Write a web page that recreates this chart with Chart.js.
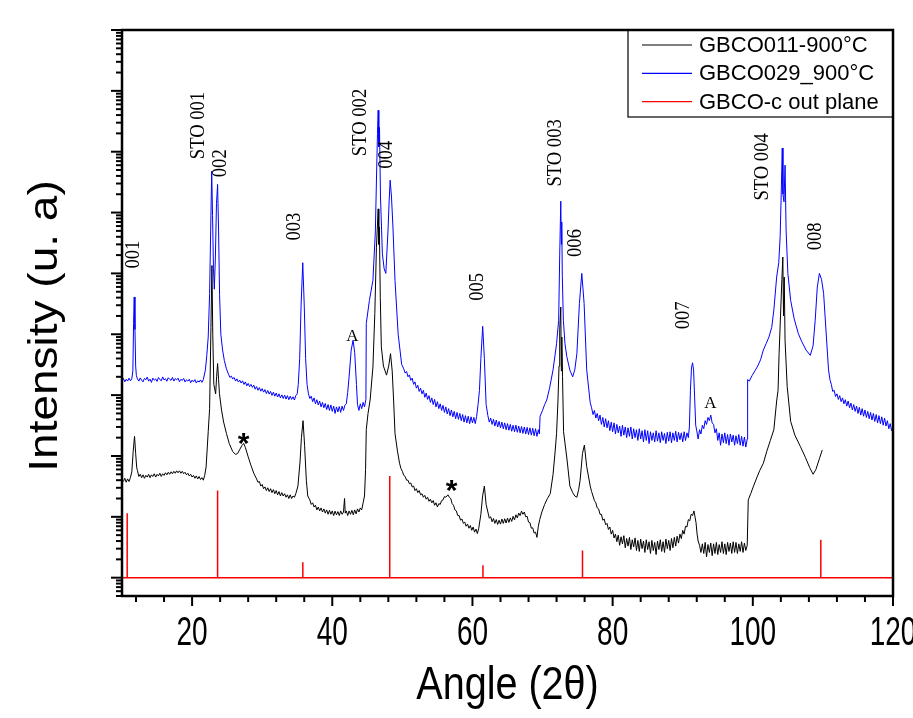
<!DOCTYPE html>
<html>
<head>
<meta charset="utf-8">
<script src="https://cdn.jsdelivr.net/npm/chart.js@4.4.1/dist/chart.umd.min.js"></script>
<style>
  html, body { margin: 0; padding: 0; background: #fff; }
  #wrap { width: 913px; height: 718px; }
</style>
</head>
<body>
<div id="wrap"><canvas id="xrd" width="913" height="718"></canvas></div>
<script>
// GBCO011-900C film, [2theta, counts]
const gbco011 = [
  [10.2,38],[10.4,43],[10.6,37],[10.8,42],[11.0,38],[11.2,44],[11.4,55],[11.6,120],[11.79,210],[11.95,110],[12.1,64],
  [12.2,58],[12.4,46],[12.6,50],[12.8,44],[13.0,49],[13.2,43],[13.4,48],[13.6,45],[13.8,50],[14.0,44],
  [14.2,49],[14.4,46],[14.6,51],[14.8,45],[15.0,50],[15.2,47],[15.4,52],[15.6,46],[15.8,51],[16.0,48],
  [16.2,53],[16.4,49],[16.6,54],[16.8,50],[17.0,55],[17.2,51],[17.4,56],[17.6,52],[17.8,57],[18.0,53],
  [18.2,57],[18.4,52],[18.6,56],[18.8,51],[19.0,54],[19.2,49],[19.4,52],[19.6,47],[19.8,50],[20.0,45],
  [20.2,48],[20.4,43],[20.6,47],[20.8,42],[21.0,46],[21.2,41],[21.4,44],[21.6,40],[21.8,48],[22.0,66],
  [22.3,250],[22.5,600],[22.69,13000],[22.83,135000],[22.95,10000],[23.1,1500],[23.36,1050],[23.5,2000],[23.64,3300],[23.78,1800],
  [23.9,1070],[24.2,570],[24.5,360],[24.9,235],[25.3,160],[25.8,118],[26.2,106],[26.5,110],[26.8,128],[27.1,148],
  [27.36,161],[27.6,138],[28.0,97],[28.4,70],[28.8,52],[29.2,42],[29.4,37],[29.6,38],[29.8,32],[30.0,34],
  [30.2,29],[30.4,31],[30.6,27],[30.8,30],[31.0,26],[31.2,29],[31.4,25],[31.6,28],[31.8,24],[32.0,27],
  [32.2,23],[32.4,26],[32.6,22],[32.8,25],[33.0,22],[33.2,24],[33.4,21],[33.6,23],[33.8,20],[34.0,23],
  [34.2,20],[34.4,22],[34.6,21],[34.8,24],[35.1,32],[35.4,80],[35.6,200],[35.83,380],[36.05,150],[36.3,40],
  [36.5,22],[36.8,19],[37.0,16],[37.2,17],[37.4,14.5],[37.6,15.5],[37.8,13],[38.0,14.5],[38.2,12.5],[38.4,14],
  [38.6,12],[38.8,13.5],[39.0,11.5],[39.2,13],[39.4,11],[39.6,12.8],[39.8,11],[40.0,12.5],[40.2,10.5],[40.4,12.4],
  [40.6,10.8],[40.8,12.2],[41.0,10.5],[41.2,12.5],[41.4,11],[41.6,12],[41.75,20],[41.85,11.5],[42.0,12.5],[42.2,10.5],
  [42.4,12.5],[42.6,11],[42.8,12.8],[43.0,10.8],[43.2,13],[43.4,11.2],[43.6,13.5],[43.8,12],[44.0,14],[44.2,13],
  [44.4,17],[44.6,22],[44.75,60],[44.85,270],[45.1,500],[45.4,830],[45.8,2900],[46.07,22000],[46.3,270000],[46.55,1150000],
  [46.64,300000],[46.72,575000],[46.85,40000],[47.0,6200],[47.3,3000],[47.74,2130],[48.05,3000],[48.31,4800],[48.55,2500],[48.75,830],
  [48.95,235],[49.3,120],[49.6,76],[49.8,62],[50.0,56],[50.2,48],[50.4,46],[50.6,40],[50.8,40],[51.0,35],
  [51.2,36],[51.4,31],[51.6,32],[51.8,27],[52.0,29],[52.2,25],[52.4,27],[52.6,23],[52.8,24],[53.0,21],
  [53.2,22.5],[53.4,19.5],[53.6,21],[53.8,18],[54.0,19.5],[54.2,17],[54.4,18.5],[54.6,15.5],[54.8,17],[55.0,14.5],
  [55.2,16.5],[55.4,16],[55.6,18.5],[55.8,19],[56.0,21.5],[56.2,21],[56.5,23],[56.7,21],[56.9,20],[57.1,16.5],
  [57.3,15.5],[57.5,13],[57.7,12.5],[57.9,10.5],[58.1,10.5],[58.3,8.8],[58.5,9.2],[58.7,7.8],[58.9,8.2],[59.1,7],
  [59.3,7.6],[59.5,6.5],[59.7,7.2],[59.9,6],[60.1,6.8],[60.3,5.6],[60.5,6.3],[60.7,5.3],[60.9,6.5],[61.2,11],
  [61.45,22],[61.7,32],[61.95,16],[62.2,12],[62.4,9.5],[62.6,10],[62.8,8.3],[63.0,9.4],[63.2,7.8],[63.4,9],
  [63.6,7.5],[63.8,8.8],[64.0,7.6],[64.2,9.2],[64.4,7.8],[64.6,9.3],[64.8,7.9],[65.0,9.5],[65.2,8.1],[65.4,9.6],
  [65.6,8.4],[65.8,10.2],[66.0,8.9],[66.2,10.8],[66.4,9.6],[66.6,11.5],[66.8,10.5],[67.0,12.4],[67.2,11],[67.4,12],
  [67.6,10],[67.8,10.2],[68.0,8.2],[68.2,8],[68.4,6.5],[68.6,6.6],[68.8,5.4],[69.0,5.6],[69.2,4.6],[69.4,7],
  [69.6,9],[69.9,12],[70.3,16],[70.7,20],[71.1,24],[71.5,50],[71.8,120],[72.0,235],[72.2,800],[72.35,3000],
  [72.45,12000],[72.6,28000],[72.68,2500],[72.75,9000],[72.85,2000],[73.0,250],[73.5,86],[73.9,32],[74.3,25],[74.6,22],
  [74.9,21],[75.15,28],[75.36,40],[75.7,110],[75.97,151],[76.3,67],[76.8,32],[77.0,26],[77.2,22],[77.4,18.5],
  [77.6,17],[77.8,14],[78.0,13.5],[78.2,11],[78.4,11],[78.6,8.8],[78.8,9.2],[79.0,7.4],[79.2,7.8],[79.4,6.2],
  [79.6,6.8],[79.8,5.2],[80.0,6],[80.2,4.5],[80.4,5.2],[80.6,3.9],[80.8,5.0],[81.0,3.4],[81.2,4.7],[81.4,3.6],
  [81.6,4.9],[81.8,3.1],[82.0,4.4],[82.2,3.3],[82.4,4.6],[82.6,2.9],[82.8,4.2],[83.0,3.2],[83.2,4.5],[83.4,2.8],
  [83.6,4.1],[83.8,2.7],[84.0,4.3],[84.2,3.0],[84.4,4.0],[84.6,2.6],[84.8,4.2],[85.0,2.9],[85.2,3.9],[85.4,2.5],
  [85.6,4.1],[85.8,2.8],[86.0,3.8],[86.2,2.4],[86.4,4.0],[86.6,2.9],[86.8,4.2],[87.0,2.7],[87.2,3.9],[87.4,2.6],
  [87.6,4.3],[87.8,3.0],[88.0,4.1],[88.2,2.8],[88.4,4.4],[88.6,3.1],[88.8,4.6],[89.0,3.3],[89.2,4.8],[89.4,3.7],
  [89.6,5.2],[89.8,4.4],[90.0,6.0],[90.2,5.2],[90.4,7.0],[90.6,6.8],[90.8,9.0],[91.0,8.6],[91.2,11],[91.4,10.5],
  [91.6,12.5],[91.75,10],[91.9,8],[92.05,5.2],[92.2,4.0],[92.4,3.4],[92.6,2.6],[92.8,3.6],[93.0,2.5],[93.2,3.8],
  [93.4,2.2],[93.6,3.5],[93.8,2.6],[94.0,3.7],[94.2,2.3],[94.4,3.6],[94.6,2.5],[94.8,3.8],[95.0,2.4],[95.2,3.5],
  [95.4,2.6],[95.6,3.9],[95.8,2.5],[96.0,3.6],[96.2,2.4],[96.4,3.8],[96.6,2.7],[96.8,3.7],[97.0,2.5],[97.2,3.9],
  [97.4,2.6],[97.6,3.8],[97.8,2.5],[98.0,3.6],[98.2,2.7],[98.4,3.9],[98.6,2.6],[98.8,3.7],[99.0,2.8],[99.2,3.4],
  [99.35,19],[99.7,24],[100.1,32],[100.6,45],[101.0,58],[101.5,76],[102.0,120],[102.5,180],[103.0,270],[103.4,800],
  [103.6,1200],[103.75,4800],[103.95,20000],[104.15,80000],[104.28,186000],[104.38,20000],[104.48,87000],[104.6,8000],[104.9,1400],[105.4,370],
  [106.0,220],[106.8,142],[107.5,95],[108.1,65],[108.6,50],[109.0,60],[109.5,90],[109.9,125]
];

// GBCO029_900C film, [2theta, counts]
const gbco029 = [
  [10.0,1700],[10.2,1880],[10.4,1650],[10.6,1820],[10.8,1700],[11.0,1900],[11.2,1720],[11.4,1850],[11.55,2500],[11.65,15000],
  [11.74,41000],[11.85,12000],[11.95,3000],[12.05,2100],[12.2,1850],[12.4,1700],[12.6,1920],[12.8,1760],[13.0,1650],[13.2,1880],
  [13.4,1790],[13.6,1980],[13.8,1700],[14.0,1830],[14.2,1620],[14.4,1900],[14.6,1760],[14.8,1850],[15.0,1680],[15.2,1950],
  [15.4,1800],[15.6,1720],[15.8,1990],[16.0,1780],[16.2,1860],[16.4,1690],[16.6,1930],[16.8,1820],[17.0,1750],[17.2,1950],
  [17.4,1700],[17.6,1870],[17.8,1780],[18.0,1900],[18.2,1660],[18.4,1820],[18.6,1740],[18.8,1880],[19.0,1640],[19.2,1790],
  [19.4,1700],[19.6,1820],[19.8,1600],[20.0,1760],[20.2,1650],[20.4,1800],[20.6,1580],[20.8,1720],[21.0,1640],[21.2,1780],
  [21.4,1620],[21.6,1800],[21.9,2600],[22.1,4500],[22.3,9000],[22.5,47000],[22.65,500000],[22.8,4800000],[22.92,900000],[23.05,120000],
  [23.17,55000],[23.32,180000],[23.48,1400000],[23.64,2900000],[23.78,500000],[23.92,45000],[24.1,10000],[24.35,5500],[24.6,3700],[24.9,2700],
  [25.2,2200],[25.4,1950],[25.6,2050],[25.8,1850],[26.0,1950],[26.2,1700],[26.4,1850],[26.6,1640],[26.8,1760],[27.0,1580],
  [27.2,1720],[27.4,1500],[27.6,1650],[27.8,1420],[28.0,1560],[28.2,1380],[28.4,1500],[28.6,1340],[28.8,1460],[29.0,1250],
  [29.2,1380],[29.4,1200],[29.6,1330],[29.8,1160],[30.0,1280],[30.2,1120],[30.4,1230],[30.6,1060],[30.8,1190],[31.0,1040],
  [31.2,1150],[31.4,990],[31.6,1120],[31.8,960],[32.0,1080],[32.2,930],[32.4,1050],[32.6,900],[32.8,1010],[33.0,880],
  [33.2,1000],[33.4,860],[33.6,980],[33.8,840],[34.0,960],[34.2,850],[34.4,940],[34.6,830],[34.8,980],[35.0,1050],
  [35.15,1500],[35.35,4000],[35.55,30000],[35.79,150000],[36.0,30000],[36.2,4000],[36.4,1500],[36.6,1050],[36.8,880],[37.0,960],
  [37.2,780],[37.4,900],[37.6,720],[37.8,840],[38.0,690],[38.2,800],[38.4,640],[38.6,760],[38.8,620],[39.0,730],
  [39.2,580],[39.4,700],[39.6,560],[39.8,690],[40.0,540],[40.2,660],[40.4,500],[40.6,640],[40.8,530],[41.0,650],
  [41.2,520],[41.4,660],[41.6,560],[41.8,680],[42.0,720],[42.2,1100],[42.4,2000],[42.7,5500],[42.97,8000],[43.2,5000],
  [43.45,1500],[43.6,700],[43.8,560],[44.0,720],[44.2,600],[44.4,760],[44.6,640],[44.8,850],[44.85,15000],[45.3,36000],
  [45.8,77000],[46.15,500000],[46.3,3300000],[46.45,20000000],[46.55,48000000],[46.64,12000000],[46.74,25000000],[46.88,1800000],[47.15,210000],[47.4,120000],
  [47.64,100000],[47.95,500000],[48.12,1600000],[48.26,3400000],[48.45,1800000],[48.65,600000],[48.95,77000],[49.4,10000],[49.9,3200],[50.2,2700],
  [50.4,2300],[50.6,2450],[50.8,2000],[51.0,2150],[51.2,1750],[51.4,1900],[51.6,1500],[51.8,1650],[52.0,1300],[52.2,1450],
  [52.4,1150],[52.6,1300],[52.8,1050],[53.0,1200],[53.2,920],[53.4,1080],[53.6,850],[53.8,980],[54.0,760],[54.2,900],
  [54.4,700],[54.6,850],[54.8,640],[55.0,780],[55.2,600],[55.4,720],[55.6,560],[55.8,680],[56.0,520],[56.2,640],
  [56.4,490],[56.6,600],[56.8,460],[57.0,570],[57.2,440],[57.4,540],[57.6,410],[57.8,520],[58.0,400],[58.2,500],
  [58.4,380],[58.6,480],[58.8,360],[59.0,460],[59.2,350],[59.4,450],[59.6,340],[59.8,440],[60.0,350],[60.2,430],
  [60.4,340],[60.6,450],[60.8,700],[61.0,1200],[61.2,4000],[61.46,13500],[61.7,4000],[61.95,700],[62.2,460],[62.4,360],
  [62.6,420],[62.8,330],[63.0,400],[63.2,310],[63.4,390],[63.6,300],[63.8,370],[64.0,290],[64.2,360],[64.4,280],
  [64.6,350],[64.8,270],[65.0,340],[65.2,265],[65.4,330],[65.6,255],[65.8,320],[66.0,250],[66.2,320],[66.4,245],
  [66.6,310],[66.8,240],[67.0,305],[67.2,235],[67.4,300],[67.6,230],[67.8,295],[68.0,225],[68.2,290],[68.4,220],
  [68.6,285],[68.8,215],[69.0,280],[69.2,210],[69.4,270],[69.55,230],[69.65,450],[70.0,560],[70.3,700],[70.6,830],
  [71.0,1300],[71.5,2600],[72.0,7000],[72.3,17000],[72.45,200000],[72.6,1540000],[72.68,300000],[72.74,700000],[72.82,90000],[72.97,17000],
  [73.2,7000],[73.46,4300],[73.9,2570],[74.3,2000],[74.6,2600],[74.9,4800],[75.26,32000],[75.6,100000],[75.93,32000],[76.3,2600],
  [76.8,750],[77.0,620],[77.2,480],[77.4,560],[77.6,420],[77.8,500],[78.0,380],[78.2,470],[78.4,330],[78.6,430],
  [78.8,300],[79.0,410],[79.2,290],[79.4,380],[79.6,260],[79.8,360],[80.0,250],[80.2,350],[80.4,230],[80.6,330],
  [80.8,240],[81.0,310],[81.2,210],[81.4,320],[81.6,220],[81.8,300],[82.0,200],[82.2,290],[82.4,210],[82.6,300],
  [82.8,190],[83.0,280],[83.2,200],[83.4,270],[83.6,180],[83.8,280],[84.0,190],[84.2,260],[84.4,170],[84.6,270],
  [84.8,180],[85.0,260],[85.2,160],[85.4,250],[85.6,180],[85.8,240],[86.0,170],[86.2,260],[86.4,175],[86.6,240],
  [86.8,165],[87.0,250],[87.2,180],[87.4,235],[87.6,160],[87.8,245],[88.0,175],[88.2,250],[88.4,165],[88.6,240],
  [88.8,180],[89.0,255],[89.2,170],[89.4,245],[89.6,185],[89.8,240],[90.0,170],[90.2,250],[90.4,180],[90.6,240],
  [90.8,200],[90.95,300],[91.1,1200],[91.25,2800],[91.4,3400],[91.55,2600],[91.7,900],[91.85,320],[92.0,260],[92.2,190],
  [92.4,270],[92.6,230],[92.8,320],[93.0,280],[93.2,380],[93.4,330],[93.6,430],[93.8,380],[94.0,470],[94.2,350],
  [94.4,330],[94.6,240],[94.8,280],[95.0,180],[95.2,240],[95.4,150],[95.6,230],[95.8,165],[96.0,240],[96.2,160],
  [96.4,225],[96.6,150],[96.8,230],[97.0,170],[97.2,220],[97.4,150],[97.6,215],[97.8,160],[98.0,225],[98.2,150],
  [98.4,210],[98.6,145],[98.8,205],[99.0,140],[99.2,190],[99.26,1800],[99.5,1700],[99.9,2100],[100.3,2500],[100.7,3000],
  [101.1,3800],[101.5,5500],[101.9,7000],[102.3,9000],[102.7,13000],[103.0,25000],[103.4,87000],[103.7,150000],[103.9,400000],[104.05,2000000],
  [104.2,11500000],[104.3,2000000],[104.45,1500000],[104.6,6000000],[104.75,500000],[105.0,100000],[105.4,36000],[105.9,18000],[106.5,10200],[107.0,7500],
  [107.6,5500],[108.2,4500],[108.6,6500],[108.9,17000],[109.2,60000],[109.5,100000],[109.8,80000],[110.1,47000],[110.5,9000],[110.8,2600],
  [111.0,1800],[111.2,1500],[111.4,1150],[111.6,1200],[111.8,950],[112.0,1050],[112.2,850],[112.4,980],[112.6,780],[112.8,900],
  [113.0,720],[113.2,840],[113.4,660],[113.6,800],[113.8,620],[114.0,740],[114.2,570],[114.4,700],[114.6,540],[114.8,660],
  [115.0,500],[115.2,630],[115.4,470],[115.6,600],[115.8,450],[116.0,570],[116.2,430],[116.4,540],[116.6,410],[116.8,520],
  [117.0,390],[117.2,500],[117.4,370],[117.6,480],[117.8,350],[118.0,460],[118.2,340],[118.4,440],[118.6,320],[118.8,420],
  [119.0,310],[119.2,380],[119.4,280],[119.6,340],[119.8,260],[120.0,320]
];

// GBCO-c reference pattern (out of plane)
const refAngles = [10.74, 23.64, 35.8, 48.2, 61.5, 75.7, 109.7];
const refIntensity = [11.5, 27, 1.8, 47, 1.6, 2.8, 4.2];
const refBase = 1;

const seriesNames = ['GBCO011-900°C', 'GBCO029_900°C', 'GBCO-c out plane'];
const seriesColors = ['#000000', '#0000ff', '#ff0000'];

const xTickValues = [20, 40, 60, 80, 100, 120];
const xTickLabels = ['20', '40', '60', '80', '100', '120'];

// peak labels: text, 2theta, log10 height of label centre
const peakLabels = [
  ['001', 11.71, 5.31], ['STO 001', 20.93, 7.43], ['002', 24.07, 6.81], ['003', 34.71, 5.77],
  ['STO 002', 44.07, 7.48], ['004', 47.71, 6.95], ['005', 60.71, 4.78], ['STO 003', 71.93, 6.98],
  ['006', 74.79, 5.50], ['007', 90.21, 4.31], ['STO 004', 101.43, 6.75], ['008', 108.93, 5.61]
];
const otherMarks = [['A', 42.86, 3.97], ['A', 93.93, 2.86], ['*', 27.36, 2.32], ['*', 57.03, 1.55]];

// red sticks built from the reference arrays
const sticks = [[10, refBase]];
refAngles.forEach((a, i) => { sticks.push([a, refBase], [a, refIntensity[i]], [a, refBase]); });
sticks.push([120, refBase]);

// text with screen-space stretch (the original figure was squeezed sideways)
function drawText(ctx, text, x, y, font, sx, sy, rot) {
  ctx.save();
  ctx.translate(x, y);
  ctx.scale(sx, sy);
  if (rot) ctx.rotate(rot);
  ctx.font = font;
  ctx.textAlign = 'center';
  ctx.textBaseline = 'middle';
  ctx.fillText(text, 0, 0);
  ctx.restore();
}

const decor = {
  id: 'decor',
  afterDatasetsDraw(chart) {
    const { ctx, chartArea: a, scales: { x, y } } = chart;
    ctx.save();
    ctx.fillStyle = '#000';
    ctx.strokeStyle = '#000';

    // legend box
    const lw = 265, lh = 87, lx = a.right - lw, ly = a.top;
    ctx.fillStyle = '#fff';
    ctx.fillRect(lx, ly, lw, lh);
    ctx.lineWidth = 1.2;
    ctx.strokeStyle = '#000';
    ctx.strokeRect(lx, ly, lw, lh);
    chart.data.datasets.forEach((ds, i) => {
      const yy = ly + 15 + i * 28.3;
      ctx.strokeStyle = ds.borderColor;
      ctx.lineWidth = 1.2;
      ctx.beginPath();
      ctx.moveTo(lx + 14, yy);
      ctx.lineTo(lx + 64, yy);
      ctx.stroke();
      ctx.fillStyle = '#000';
      ctx.font = '22px "Liberation Sans", Arial, sans-serif';
      ctx.textAlign = 'left';
      ctx.textBaseline = 'middle';
      ctx.fillText(ds.label, lx + 71, yy + 1);
    });

    // frame
    ctx.strokeStyle = '#000';
    ctx.lineWidth = 2.5;
    ctx.strokeRect(a.left, a.top, a.right - a.left, a.bottom - a.top);

    // x ticks
    ctx.lineWidth = 2;
    for (let v = 12; v <= 120; v += 4) {
      const px = x.getPixelForValue(v);
      const len = v % 20 === 0 ? 10 : 6;
      ctx.beginPath();
      ctx.moveTo(px, a.bottom);
      ctx.lineTo(px, a.bottom + len);
      ctx.stroke();
    }
    // y ticks, log decades
    for (let e = -1; e <= 9; e++) {
      for (let m = 1; m <= 9; m++) {
        const v = m * Math.pow(10, e);
        if (v < y.min * 0.999 || v > y.max * 1.001) continue;
        const py = y.getPixelForValue(v);
        const len = m === 1 ? 11 : 6;
        ctx.beginPath();
        ctx.moveTo(a.left, py);
        ctx.lineTo(a.left - len, py);
        ctx.stroke();
      }
    }

    // x tick labels
    ctx.fillStyle = '#000';
    xTickValues.forEach((v, i) => {
      drawText(ctx, xTickLabels[i], x.getPixelForValue(v), a.bottom + 38, '40px "Liberation Sans", Arial, sans-serif', 0.7, 1, 0);
    });

    // axis titles
    drawText(ctx, 'Angle (2θ)', (a.left + a.right) / 2, 686, '46px "Liberation Sans", Arial, sans-serif', 0.86, 1, 0);
    drawText(ctx, 'Intensity (u. a)', 46, 326, '46px "Liberation Sans", Arial, sans-serif', 0.87, 1, -Math.PI / 2);

    // peak labels
    peakLabels.forEach(([t, ang, e]) => {
      drawText(ctx, t, x.getPixelForValue(ang), y.getPixelForValue(Math.pow(10, e)), '20px "Liberation Serif", "Times New Roman", serif', 1, 0.93, -Math.PI / 2);
    });
    otherMarks.forEach(([t, ang, e]) => {
      const px = x.getPixelForValue(ang), py = y.getPixelForValue(Math.pow(10, e));
      if (t === '*') {
        ctx.font = 'bold 30px "Liberation Sans", Arial, sans-serif';
        ctx.textAlign = 'center';
        ctx.textBaseline = 'alphabetic';
        ctx.fillText(t, px, py + 0.56 * 30);
      } else {
        drawText(ctx, t, px, py, '17px "Liberation Serif", "Times New Roman", serif', 1, 1, 0);
      }
    });
    ctx.restore();
  }
};

new Chart(document.getElementById('xrd').getContext('2d'), {
  type: 'line',
  data: {
    datasets: [
      { label: seriesNames[0], data: gbco011, borderColor: seriesColors[0], borderWidth: 1, pointRadius: 0, tension: 0 },
      { label: seriesNames[1], data: gbco029, borderColor: seriesColors[1], borderWidth: 1, pointRadius: 0, tension: 0 },
      { label: seriesNames[2], data: sticks, borderColor: seriesColors[2], borderWidth: 1.5, pointRadius: 0, tension: 0 }
    ]
  },
  options: {
    responsive: false,
    animation: false,
    layout: { padding: { top: 30, right: 20, bottom: 0, left: 0 } },
    plugins: { legend: { display: false }, tooltip: { enabled: false } },
    scales: {
      x: {
        type: 'linear', min: 10, max: 120,
        grid: { display: false }, border: { display: false }, ticks: { display: false },
        afterFit(s) { s.height = 122; s.paddingLeft = 0; s.paddingRight = 0; }
      },
      y: {
        type: 'logarithmic', min: 0.5, max: 1e9,
        grid: { display: false }, border: { display: false }, ticks: { display: false },
        afterFit(s) { s.width = 122; s.paddingTop = 0; s.paddingBottom = 0; }
      }
    }
  },
  plugins: [decor]
});
</script>
</body>
</html>
